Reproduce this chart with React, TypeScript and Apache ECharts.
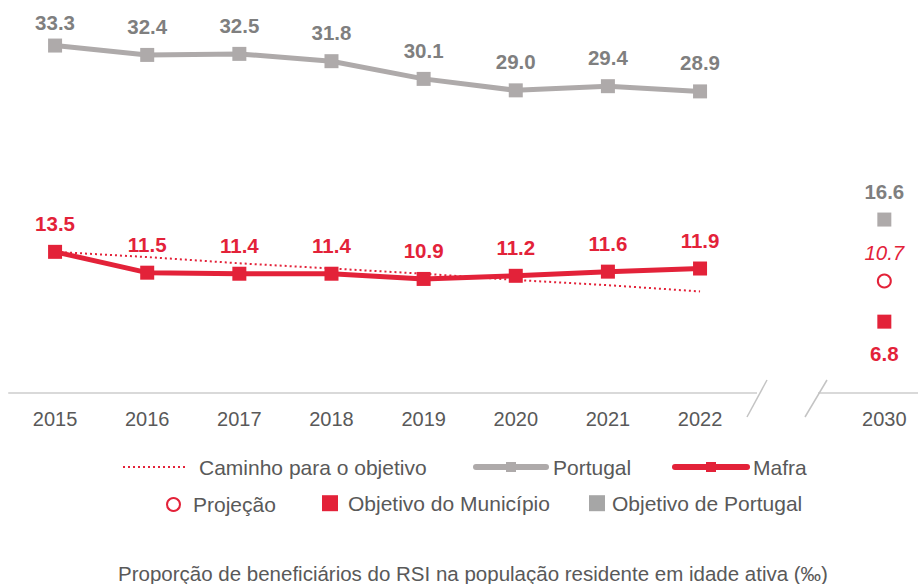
import React, { useEffect, useRef } from 'react';
import * as echarts from 'echarts';

const years = ['2015', '2016', '2017', '2018', '2019', '2020', '2021', '2022'];
const gapLabel = '';
const targetYear = '2030';
const pathToGoal = [13.5, 13.0, 12.4, 11.9, 11.4, 10.8, 10.3, 9.7];
const portugal = [33.3, 32.4, 32.5, 31.8, 30.1, 29.0, 29.4, 28.9];
const mafra = [13.5, 11.5, 11.4, 11.4, 10.9, 11.2, 11.6, 11.9];
const projection = [10.7];
const mafraGoal = [6.8];
const portugalGoal = [16.6];
const seriesNames = [
  'Caminho para o objetivo',
  'Portugal',
  'Mafra',
  'Projeção',
  'Objetivo do Município',
  'Objetivo de Portugal',
];
const titleText = 'Proporção de beneficiários do RSI na população residente em idade ativa (‰)';

const RED = '#e32239';
const GRAY_LINE = '#aeaaaa';
const GRAY_LABEL = '#7f7f7f';
const TEXT = '#595959';
const FONT = '"Liberation Sans", Arial, Helvetica, sans-serif';

export default function App() {
  const ref = useRef<HTMLDivElement>(null);

  useEffect(() => {
    if (!ref.current) return;
    const chart = echarts.init(ref.current, null, { renderer: 'svg' });
    const categories = [...years, gapLabel, targetYear];

    const legendText = (pad: number) => ({
      color: TEXT,
      fontSize: 21,
      fontFamily: FONT,
      padding: [0, 0, 0, pad],
    });
    const legendBase = {
      orient: 'horizontal',
      padding: 0,
      itemGap: 0,
      selectedMode: false,
    };

    const boldLabel = (color: string, position: string, distance: number) => ({
      show: true,
      position,
      distance,
      color,
      fontSize: 20.5,
      fontWeight: 'bold',
      fontFamily: FONT,
      formatter: (p: any) => {
        const v = Array.isArray(p.value) ? p.value[1] : p.value;
        return Number(v).toFixed(1);
      },
    });

    chart.setOption({
      animation: false,
      backgroundColor: '#ffffff',
      title: {
        text: titleText,
        left: 118,
        top: 563,
        padding: 0,
        textStyle: { color: TEXT, fontSize: 20.5, fontWeight: 'normal', fontFamily: FONT },
      },
      grid: {
        left: 9,
        width: 921.4,
        top: 7,
        bottom: 191.5,
        containLabel: false,
        outerBoundsMode: 'none',
      },
      xAxis: {
        type: 'category',
        data: categories,
        boundaryGap: true,
        axisLine: { show: true, lineStyle: { color: '#d9d9d9', width: 2 } },
        axisTick: { show: false },
        axisLabel: { color: TEXT, fontSize: 20, fontFamily: FONT, margin: 16, interval: 0 },
        splitLine: { show: false },
      },
      yAxis: {
        type: 'value',
        min: 0,
        max: 37,
        show: false,
        splitLine: { show: false },
      },
      legend: [
        {
          ...legendBase,
          left: 122,
          top: 456.5,
          itemWidth: 63,
          itemHeight: 12.5,
          textStyle: legendText(8),
          data: [
            {
              name: seriesNames[0],
              itemStyle: { color: 'rgba(0,0,0,0)', borderWidth: 0, opacity: 0 },
              lineStyle: { color: RED, width: 2, type: [2, 3] },
            },
          ],
        },
        {
          ...legendBase,
          left: 473,
          top: 456.5,
          itemWidth: 70,
          itemHeight: 12.5,
          textStyle: legendText(2),
          data: [{ name: seriesNames[1], lineStyle: { width: 6, cap: 'round' } }],
        },
        {
          ...legendBase,
          left: 672,
          top: 456.5,
          itemWidth: 72,
          itemHeight: 12.5,
          textStyle: legendText(1),
          data: [{ name: seriesNames[2], lineStyle: { width: 6, cap: 'round' } }],
        },
        {
          ...legendBase,
          left: 166,
          top: 494,
          itemWidth: 13,
          itemHeight: 13,
          textStyle: legendText(8),
          data: [
            {
              name: seriesNames[3],
              icon: 'circle',
              itemStyle: { color: '#ffffff', borderColor: RED, borderWidth: 2, opacity: 1 },
            },
          ],
        },
        {
          ...legendBase,
          left: 322,
          top: 492.7,
          itemWidth: 16,
          itemHeight: 16,
          textStyle: legendText(5),
          data: [{ name: seriesNames[4], icon: 'rect', itemStyle: { color: RED, opacity: 1 } }],
        },
        {
          ...legendBase,
          left: 589,
          top: 492.7,
          itemWidth: 16,
          itemHeight: 16,
          textStyle: legendText(2),
          data: [{ name: seriesNames[5], icon: 'rect', itemStyle: { color: '#a6a6a6', opacity: 1 } }],
        },
      ],
      series: [
        {
          name: seriesNames[0],
          type: 'line',
          data: pathToGoal,
          symbol: 'none',
          z: 1,
          lineStyle: { color: RED, width: 2, type: [2, 3] },
          itemStyle: { color: RED },
        },
        {
          name: seriesNames[1],
          type: 'line',
          data: portugal.map((v, i) => (i === 0 ? { value: v, label: { distance: 6 } } : v)),
          symbol: 'rect',
          symbolSize: 14,
          z: 3,
          lineStyle: { color: GRAY_LINE, width: 5 },
          itemStyle: { color: GRAY_LINE },
          label: boldLabel(GRAY_LABEL, 'top', 11),
        },
        {
          name: seriesNames[2],
          type: 'line',
          data: mafra,
          symbol: 'rect',
          symbolSize: 14,
          z: 3,
          lineStyle: { color: RED, width: 5 },
          itemStyle: { color: RED },
          label: boldLabel(RED, 'top', 11),
        },
        {
          name: seriesNames[3],
          type: 'scatter',
          data: projection.map((v) => [targetYear, v]),
          symbol: 'circle',
          symbolSize: 13,
          itemStyle: { color: '#ffffff', borderColor: RED, borderWidth: 2, opacity: 1 },
          label: {
            ...boldLabel(RED, 'top', 11),
            fontWeight: 'normal',
            fontStyle: 'italic',
          },
        },
        {
          name: seriesNames[4],
          type: 'scatter',
          data: mafraGoal.map((v) => [targetYear, v]),
          symbol: 'rect',
          symbolSize: 14,
          itemStyle: { color: RED, opacity: 1 },
          label: boldLabel(RED, 'bottom', 14),
        },
        {
          name: seriesNames[5],
          type: 'scatter',
          data: portugalGoal.map((v) => [targetYear, v]),
          symbol: 'rect',
          symbolSize: 14,
          itemStyle: { color: GRAY_LINE, opacity: 1 },
          label: boldLabel(GRAY_LABEL, 'top', 11),
        },
      ],
      graphic: [
        {
          type: 'rect',
          z: 100,
          shape: { x: 757, y: 386, width: 61, height: 13 },
          style: { fill: '#ffffff' },
        },
        {
          type: 'line',
          z: 101,
          shape: { x1: 747, y1: 417, x2: 767, y2: 380 },
          style: { stroke: '#c4c4c4', lineWidth: 1.5 },
        },
        {
          type: 'line',
          z: 101,
          shape: { x1: 805, y1: 417, x2: 827, y2: 380 },
          style: { stroke: '#c4c4c4', lineWidth: 1.5 },
        },
      ],
    });

    return () => chart.dispose();
  }, []);

  return (
    <div
      ref={ref}
      style={{ position: 'fixed', left: 0, top: 0, width: 918, height: 584, background: '#fff' }}
    />
  );
}
